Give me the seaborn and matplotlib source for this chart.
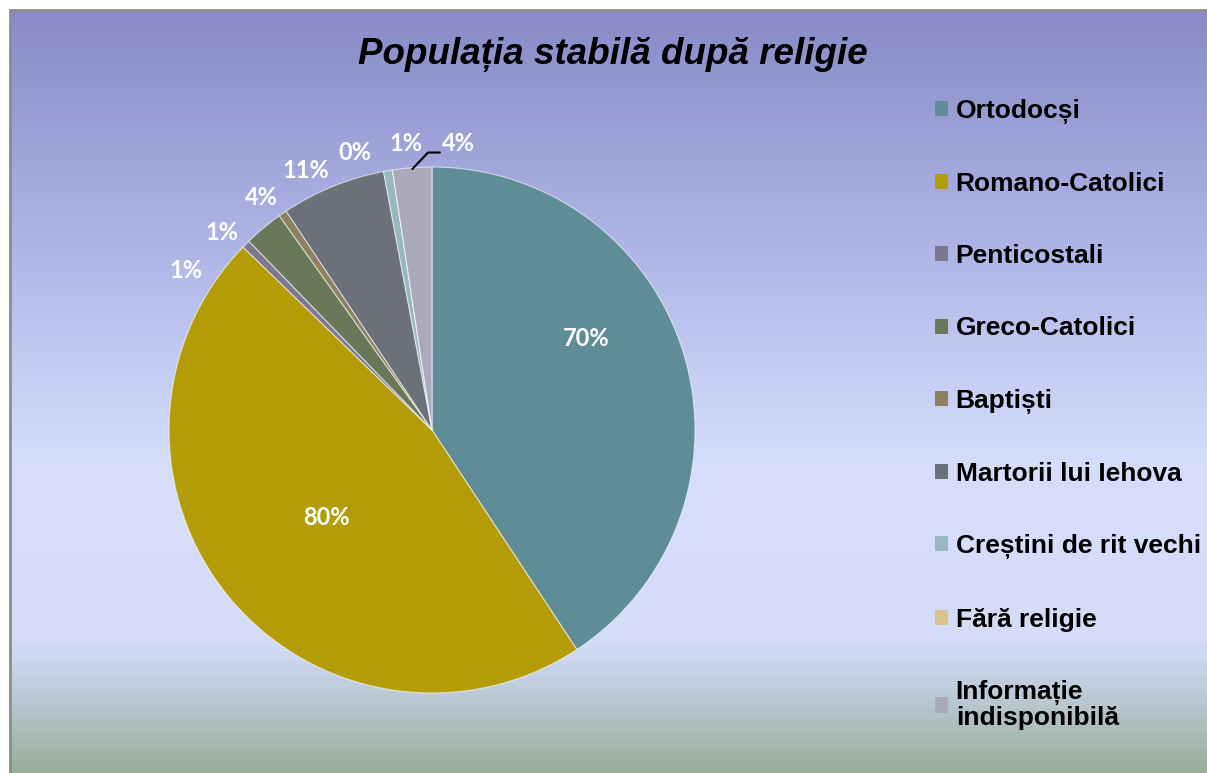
import numpy as np
import seaborn as sns
import matplotlib.pyplot as plt
from matplotlib.colors import LinearSegmentedColormap
from matplotlib.patches import Rectangle

religions = ["Ortodocși", "Romano-Catolici", "Penticostali", "Greco-Catolici", "Baptiști",
             "Martorii lui Iehova", "Creștini de rit vechi", "Fără religie",
             "Informație\nindisponibilă"]
shares = [40.7, 46.5, 0.5, 2.4, 0.5, 6.4, 0.55, 0.0, 2.4]
pct_labels = ["70%", "80%", "1%", "1%", "4%", "11%", "0%", "1%", "4%"]
colors = ["#608c98", "#b49c08", "#7c7890", "#687858", "#8c8060",
          "#6c7078", "#98b8c0", "#d8c488", "#aca8bc"]

sns.set_theme(style="white")
plt.rcParams["font.family"] = ["Liberation Sans", "DejaVu Sans"]
plt.rcParams["text.color"] = "black"

W, H = 1207, 773
fig = plt.figure(figsize=(W / 100, H / 100), dpi=100)
fig.patch.set_facecolor("white")

# background gradient of the chart area
bg = fig.add_axes([10 / W, 0, 1 - 10 / W, 1 - 10 / H])
grad = LinearSegmentedColormap.from_list("bg", [
    (0.0, "#888bc7"), (0.35, "#b4bbea"), (0.6, "#d6defc"),
    (0.83, "#d4dcf8"), (0.9, "#bccad8"), (1.0, "#9aae98")])
bg.imshow(np.linspace(0, 1, 300).reshape(-1, 1), aspect="auto", cmap=grad,
          extent=[0, 1, 0, 1])
bg.set_xlim(0, 1)
bg.set_ylim(0, 1)
bg.axis("off")
fig.add_artist(Rectangle((10 / W, -0.01), 1.0, 1 - 10 / H + 0.01, transform=fig.transFigure,
                         fill=False, edgecolor="#8c8c8c", linewidth=2))

# pie
cx, cy, R = 432, 430, 263
ax = fig.add_axes([(cx - R) / W, (H - cy - R) / H, 2 * R / W, 2 * R / H])
wedges, _ = ax.pie(shares, colors=colors, startangle=90, counterclock=False,
                   wedgeprops=dict(edgecolor=(1, 1, 1, 0.6), linewidth=0.8))
ax.set_xlim(-1, 1)
ax.set_ylim(-1, 1)
ax.axis("off")

# mid angles, measured clockwise from top
mids = []
for w in wedges:
    m = (w.theta1 + w.theta2) / 2
    mids.append((90 - m) % 360)

lab_font = dict(family=["Lato", "DejaVu Sans"], fontweight="bold", color="white", fontsize=17)


def put(angle, r, text):
    a = np.radians(angle)
    ax.text(r * np.sin(a), r * np.cos(a), text, ha="center", va="center", **lab_font)


# inside labels for the two big slices
put(mids[0] - 14, 0.68, pct_labels[0])
put(mids[1], 0.52, pct_labels[1])

# outside labels, spread evenly backwards from the last one
pos = [0.0] * len(shares)
pos[-1] = mids[-1] + 9.6
for i in range(len(shares) - 2, 1, -1):
    pos[i] = pos[i + 1] - 10.4
for i in range(2, len(shares)):
    r = 1.115 if i == 2 else 1.095
    put(pos[i], r, pct_labels[i])

# leader line for the last slice
a0 = np.radians(mids[-1])
ax.plot([0.995 * np.sin(a0), -0.015, 0.03], [0.995 * np.cos(a0), 1.055, 1.055],
        color="black", linewidth=1.5, clip_on=False)

# title
fig.text(0.508, 0.93, "Populația stabilă după religie", ha="center", va="center",
         fontsize=26.5, fontweight="bold", fontstyle="italic")

# legend
handles = [Rectangle((0, 0), 1, 1, facecolor=c, edgecolor="none") for c in colors]
leg = fig.legend(handles, religions, loc="upper left", bbox_to_anchor=(924 / W, 1 - 88 / H),
                 frameon=False, prop=dict(family="Liberation Sans", weight="bold", size=19),
                 handlelength=0.5, handleheight=0.5, handletextpad=0.3, labelspacing=1.83,
                 borderaxespad=0)
for t in leg.get_texts():
    t.set_linespacing(1.05)

fig.savefig("out.png", dpi=100)
